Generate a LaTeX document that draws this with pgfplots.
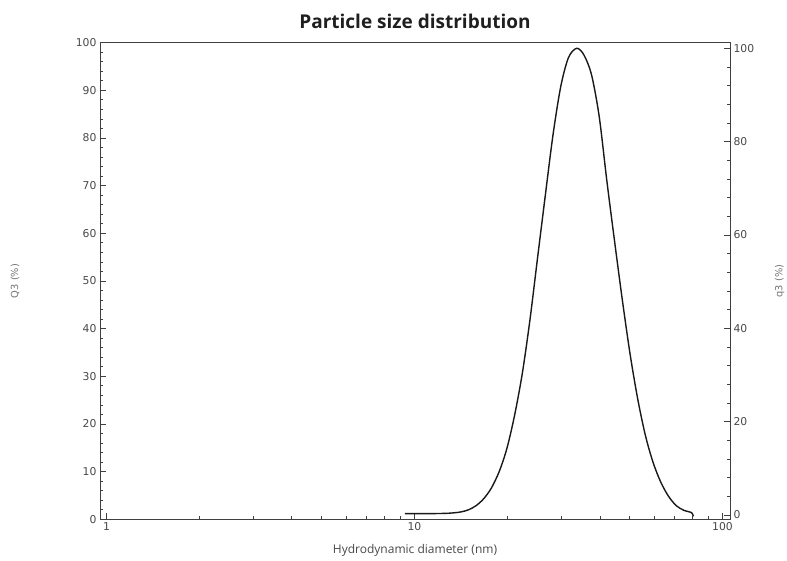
\documentclass[border=0pt]{standalone}
\usepackage{pgfplots}
\pgfplotsset{compat=1.18}
\usepackage{fontspec}
\setmainfont{DejaVu Sans}
\newfontfamily\titlefont{Open Sans}
\definecolor{axisgray}{HTML}{404040}
\definecolor{labgray}{HTML}{484848}
\begin{document}
\begin{tikzpicture}[x=1pt,y=1pt]
\useasboundingbox (-100,-40.7) rectangle (687,519.3);
\begin{axis}[
  at={(0,0)}, anchor=south west,
  scale only axis, width=630pt, height=476.6pt,
  xmode=log, xmin=0.953, xmax=105.8,
  ymin=0, ymax=100,
  xtick={1,10,100}, xticklabels={1,10,100},
  minor xtick={2,3,4,5,6,7,8,9,20,30,40,50,60,70,80,90},
  ytick={0,10,...,100},
  minor ytick={2,4,...,98},
  xtick pos=bottom, ytick pos=left,
  tick align=inside,
  major tick length=6pt, minor tick length=3.5pt,
  axis line style={color=axisgray, line width=0.9pt},
  every tick/.style={axisgray, line width=0.8pt},
  ticklabel style={font=\fontsize{10.8}{12}\selectfont, text=labgray},
  /pgf/number format/assume math mode=true,
  title={\titlefont\bfseries Particle size distribution},
  every axis title/.style={at={(axis description cs:0.5,1)}, anchor=center, yshift=21pt, font=\fontsize{19}{20}\selectfont, text=black!88},
  xlabel={\titlefont Hydrodynamic diameter (nm)},
  every axis x label/.style={at={(axis description cs:0.5,0)}, anchor=center, yshift=-30.7pt, font=\fontsize{12}{13}\selectfont, text=labgray},
  ylabel={Q3 (\%)},
  every axis y label/.style={at={(axis description cs:-0.135,0.5)}, rotate=90, anchor=center, font=\fontsize{9.8}{11}\selectfont, text=black!55},
]
\end{axis}
\begin{axis}[
  at={(0,0)}, anchor=south west,
  scale only axis, width=630pt, height=476.6pt,
  xmode=log, xmin=0.953, xmax=105.8,
  ymin=-0.92, ymax=101.2,
  axis x line=none, axis y line*=right,
  ytick={0,20,...,100},
  minor ytick={4,8,...,96},
  tick align=inside,
  major tick length=6pt, minor tick length=3.5pt,
  axis line style={color=axisgray, line width=0.9pt},
  every tick/.style={axisgray, line width=0.8pt},
  ticklabel style={font=\fontsize{10.8}{12}\selectfont, text=labgray},
  /pgf/number format/assume math mode=true,
  ylabel={q3 (\%)},
  every axis y label/.style={at={(axis description cs:1.079,0.5)}, rotate=90, anchor=center, font=\fontsize{9.8}{11}\selectfont, text=black!55},
]
\addplot[smooth, black!90, line width=1.4pt] table {
9.31 0.3
11.22 0.3
12.59 0.35
13.34 0.45
14.13 0.65
14.96 1.1
15.85 2.0
16.79 3.5
17.78 5.8
18.84 9.3
19.95 14.2
21.13 21.3
22.39 30.3
23.71 41.8
25.12 55.3
26.61 68.6
28.18 81.5
29.85 91.8
31.62 98.0
33.62 100
35.48 98.6
37.58 94.3
39.81 85.3
42.17 71.4
44.67 58.5
47.32 46.0
50.12 34.5
53.09 24.8
56.23 17.0
59.57 11.2
63.10 7.0
66.83 4.0
70.79 2.0
74.99 1.0
79.43 0.5
80.4 -0.3
};
\end{axis}
\end{tikzpicture}
\end{document}
